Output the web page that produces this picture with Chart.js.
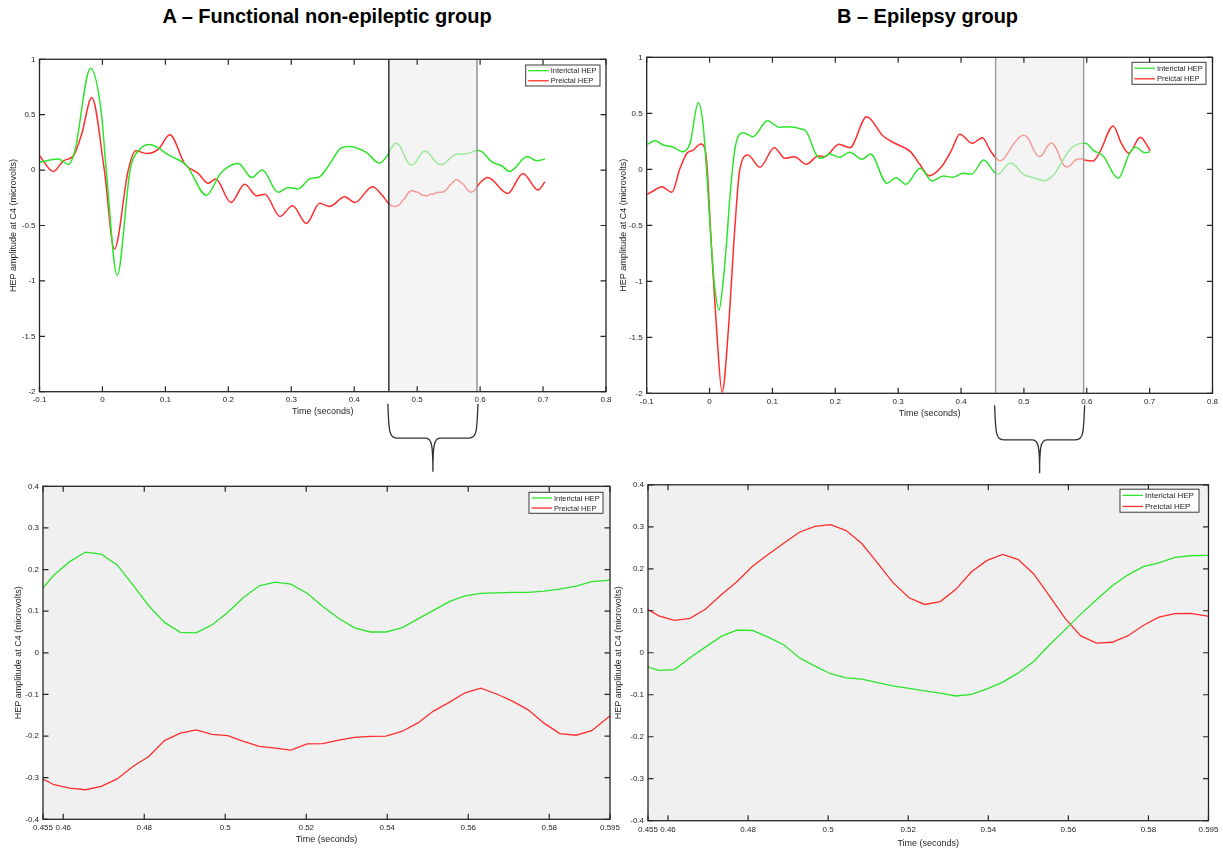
<!DOCTYPE html>
<html>
<head>
<meta charset="utf-8">
<script src="https://cdn.jsdelivr.net/npm/chart.js@4.4.1/dist/chart.umd.min.js"></script>
<style>
  html, body { margin: 0; padding: 0; background: #fff; }
  body { position: relative; width: 1223px; height: 850px; overflow: hidden;
         font-family: "Liberation Sans", Arial, sans-serif; }
  .ttl { position: absolute; top: 6px; font-weight: bold; font-size: 20px; line-height: 20px;
         text-align: center; color: #000; white-space: nowrap; }
  canvas { position: absolute; }
</style>
</head>
<body>
<div class="ttl" style="left:0px;width:654px;">A – Functional non-epileptic group</div>
<div class="ttl" style="left:632px;width:591px;">B – Epilepsy group</div>

<canvas id="cA" width="620" height="480" style="left:0px;top:0px;"></canvas>
<canvas id="cB" width="611" height="480" style="left:612px;top:0px;"></canvas>
<canvas id="cAz" width="625" height="374" style="left:0px;top:476px;"></canvas>
<canvas id="cBz" width="611" height="374" style="left:612px;top:476px;"></canvas>

<script>
// ---------- axis ticks ----------
const overviewTicksX = [-0.1, 0, 0.1, 0.2, 0.3, 0.4, 0.5, 0.6, 0.7, 0.8];
const overviewTicksY = [-2, -1.5, -1, -0.5, 0, 0.5, 1];
const zoomTicksX = [0.455, 0.46, 0.48, 0.5, 0.52, 0.54, 0.56, 0.58, 0.595];
const zoomTicksY = [-0.4, -0.3, -0.2, -0.1, 0, 0.1, 0.2, 0.3, 0.4];
const windowFrom = 0.455, windowTo = 0.595;

// ---------- samples inside the 0.455–0.595 s window (s) ----------
const windowT = [0.4538, 0.4577, 0.4616, 0.4655, 0.4694, 0.4733, 0.4772, 0.4811, 0.4850, 0.4889,
                 0.4928, 0.4967, 0.5006, 0.5045, 0.5084, 0.5123, 0.5162, 0.5202, 0.5241, 0.5280,
                 0.5319, 0.5358, 0.5397, 0.5436, 0.5475, 0.5514, 0.5553, 0.5592, 0.5631, 0.5670,
                 0.5709, 0.5748, 0.5787, 0.5826, 0.5866, 0.5905, 0.5944, 0.5983];

// Functional non-epileptic group, window (µV)
const fnesInterictalWin = [0.142, 0.187, 0.219, 0.242, 0.237, 0.211, 0.163, 0.113, 0.073, 0.049,
                           0.048, 0.067, 0.097, 0.133, 0.161, 0.170, 0.165, 0.143, 0.111, 0.083,
                           0.060, 0.050, 0.050, 0.060, 0.081, 0.102, 0.123, 0.137, 0.143, 0.144,
                           0.145, 0.145, 0.148, 0.153, 0.160, 0.171, 0.174, 0.176];
const fnesPreictalWin = [-0.297, -0.317, -0.325, -0.329, -0.321, -0.303, -0.273, -0.249, -0.211, -0.193,
                         -0.185, -0.196, -0.199, -0.213, -0.225, -0.229, -0.234, -0.219, -0.218, -0.210,
                         -0.203, -0.201, -0.200, -0.189, -0.169, -0.140, -0.119, -0.096, -0.085, -0.099,
                         -0.116, -0.137, -0.169, -0.194, -0.198, -0.187, -0.156, -0.125];

// Epilepsy group, window (µV)
const epiInterictalWin = [-0.030, -0.042, -0.040, -0.012, 0.014, 0.039, 0.054, 0.053, 0.037, 0.019,
                          -0.012, -0.032, -0.050, -0.060, -0.063, -0.071, -0.079, -0.085, -0.091, -0.096,
                          -0.103, -0.099, -0.086, -0.070, -0.048, -0.020, 0.019, 0.055, 0.092, 0.126,
                          0.159, 0.185, 0.205, 0.214, 0.227, 0.231, 0.232, 0.233];
const epiPreictalWin = [0.110, 0.088, 0.077, 0.082, 0.104, 0.138, 0.169, 0.206, 0.234, 0.261,
                        0.287, 0.301, 0.305, 0.291, 0.260, 0.214, 0.167, 0.131, 0.115, 0.122,
                        0.151, 0.193, 0.220, 0.234, 0.222, 0.187, 0.135, 0.082, 0.040, 0.023,
                        0.025, 0.040, 0.065, 0.085, 0.093, 0.094, 0.088, 0.080];

// ---------- samples outside the window ----------
// Functional non-epileptic group, interictal
const fnesInterictalPreT = [-0.100, -0.070, -0.054, -0.044, -0.019, -0.002, 0.006, 0.0235, 0.044, 0.060,
                            0.075, 0.107, 0.134, 0.165, 0.189, 0.216, 0.237, 0.254, 0.279, 0.295,
                            0.311, 0.329, 0.345, 0.361, 0.377, 0.392, 0.419, 0.440];
const fnesInterictalPreV = [0.07, 0.10, 0.05, 0.17, 0.92, 0.53, 0.00, -0.948, 0.00, 0.19,
                            0.23, 0.13, 0.04, -0.226, -0.02, 0.06, -0.067, 0.00, -0.20, -0.157,
                            -0.17, -0.08, -0.06, 0.054, 0.19, 0.213, 0.16, 0.063];
const fnesInterictalPostT = [0.620, 0.634, 0.647, 0.675, 0.690, 0.703];
const fnesInterictalPostV = [0.069, 0.039, -0.012, 0.123, 0.084, 0.099];

// Functional non-epileptic group, preictal
const fnesPreictalPreT = [-0.100, -0.078, -0.062, -0.046, -0.033, -0.017, 0.003, 0.019, 0.041, 0.053,
                          0.070, 0.089, 0.107, 0.131, 0.152, 0.168, 0.180, 0.204, 0.226, 0.245,
                          0.258, 0.282, 0.302, 0.324, 0.345, 0.361, 0.385, 0.401, 0.429, 0.443];
const fnesPreictalPreV = [0.13, -0.012, 0.084, 0.13, 0.325, 0.655, 0.00, -0.713, 0.00, 0.174,
                          0.15, 0.19, 0.319, 0.054, -0.03, -0.118, -0.081, -0.292, -0.127, -0.232,
                          -0.217, -0.418, -0.322, -0.482, -0.30, -0.328, -0.241, -0.292, -0.151, -0.217];
const fnesPreictalPostT = [0.612, 0.644, 0.668, 0.692, 0.703];
const fnesPreictalPostV = [-0.067, -0.211, -0.03, -0.18, -0.106];

// Epilepsy group, interictal
const epiInterictalPreT = [-0.099, -0.087, -0.074, -0.060, -0.042, -0.031, -0.018, -0.010, 0.003, 0.007,
                           0.015, 0.0218, 0.027, 0.032, 0.040, 0.053, 0.069, 0.092, 0.111, 0.123,
                           0.146, 0.154, 0.170, 0.178, 0.191, 0.206, 0.223, 0.243, 0.256, 0.282,
                           0.297, 0.312, 0.335, 0.354, 0.372, 0.387, 0.403, 0.417, 0.436];
const epiInterictalPreV = [0.223, 0.256, 0.217, 0.202, 0.157, 0.232, 0.595, 0.38, -0.69, -0.99,
                           -1.256, -0.99, -0.66, -0.274, 0.172, 0.327, 0.291, 0.434, 0.375, 0.38,
                           0.36, 0.336, 0.128, 0.098, 0.137, 0.107, 0.152, 0.089, 0.137, -0.125,
                           -0.075, -0.134, 0.009, -0.104, -0.06, -0.071, -0.036, -0.042, 0.083];
const epiInterictalPostT = [0.610, 0.626, 0.650, 0.668, 0.678, 0.692, 0.701];
const epiInterictalPostV = [0.172, 0.119, -0.08, 0.143, 0.196, 0.148, 0.157];

// Epilepsy group, preictal
const epiPreictalPreT = [-0.099, -0.087, -0.076, -0.060, -0.047, -0.036, -0.026, -0.014, -0.006, 0.003,
                         0.0113, 0.020, 0.0298, 0.040, 0.048, 0.061, 0.080, 0.103, 0.120, 0.135,
                         0.154, 0.173, 0.183, 0.206, 0.223, 0.250, 0.276, 0.297, 0.319, 0.335,
                         0.349, 0.369, 0.385, 0.398, 0.418, 0.434, 0.446];
const epiPreictalPreV = [-0.223, -0.185, -0.155, -0.205, 0.009, 0.143, 0.172, 0.226, 0.143, -0.69,
                         -1.44, -1.99, -1.44, -0.54, -0.006, 0.128, 0.018, 0.193, 0.098, 0.113,
                         0.045, 0.119, 0.113, 0.223, 0.193, 0.47, 0.297, 0.226, 0.16, 0.04,
                         -0.057, 0.023, 0.172, 0.313, 0.232, 0.282, 0.172];
const epiPreictalPostT = [0.610, 0.621, 0.642, 0.655, 0.667, 0.685, 0.701];
const epiPreictalPostV = [0.074, 0.157, 0.387, 0.232, 0.143, 0.286, 0.166];

// ---------- styling ----------
const AXIS_COLOR = '#262626';
const GREEN = 'rgb(45,228,45)';
const RED = 'rgb(255,45,45)';
const FONT = '"Liberation Sans", Arial, Helvetica, sans-serif';
const X_TITLE = 'Time (seconds)';
const Y_TITLE = 'HEP amplitude at C4 (microvolts)';
const LABELS = ['Interictal HEP', 'Preictal HEP'];

Chart.defaults.font.family = FONT;
Chart.defaults.color = AXIS_COLOR;

function pts(tArr, vArr) { return tArr.map((t, i) => ({ x: t, y: vArr[i] })); }
function fullSeries(preT, preV, winV, postT, postV) {
  return pts(preT, preV).concat(pts(windowT, winV), pts(postT, postV));
}
const fmt = v => String(parseFloat(Number(v).toFixed(4)));

// draws the axes box, inward ticks, highlighted window, legend box and brace
function decorPlugin(p) {
  return {
    id: 'decor',
    beforeDatasetsDraw(chart) {
      if (!p.plotBg) return;
      const a = chart.chartArea, ctx = chart.ctx;
      ctx.save();
      ctx.fillStyle = p.plotBg;
      ctx.fillRect(a.left, a.top, a.right - a.left, a.bottom - a.top);
      ctx.restore();
    },
    afterDatasetsDraw(chart) {
      const { ctx, chartArea: a } = chart;
      const xs = chart.scales.x, ys = chart.scales.y;
      ctx.save();
      // highlighted time window
      if (p.window) {
        const xl = xs.getPixelForValue(windowFrom), xr = xs.getPixelForValue(windowTo);
        ctx.fillStyle = 'rgba(236,236,236,0.58)';
        ctx.fillRect(xl, a.top, xr - xl, a.bottom - a.top);
        ctx.lineWidth = 1.4;
        ctx.strokeStyle = p.window.leftColor;
        ctx.beginPath(); ctx.moveTo(xl, a.top); ctx.lineTo(xl, a.bottom); ctx.stroke();
        ctx.strokeStyle = p.window.rightColor;
        ctx.beginPath(); ctx.moveTo(xr, a.top); ctx.lineTo(xr, a.bottom); ctx.stroke();
      }
      // axes box
      ctx.strokeStyle = AXIS_COLOR;
      ctx.lineWidth = 1.3;
      ctx.strokeRect(a.left, a.top, a.right - a.left, a.bottom - a.top);
      // inward tick marks on all four sides
      const L = 5.5;
      ctx.lineWidth = 1.2;
      ctx.beginPath();
      xs.ticks.forEach(t => {
        const px = xs.getPixelForValue(t.value);
        ctx.moveTo(px, a.bottom); ctx.lineTo(px, a.bottom - L);
        ctx.moveTo(px, a.top); ctx.lineTo(px, a.top + L);
      });
      ys.ticks.forEach(t => {
        const py = ys.getPixelForValue(t.value);
        ctx.moveTo(a.left, py); ctx.lineTo(a.left + L, py);
        ctx.moveTo(a.right, py); ctx.lineTo(a.right - L, py);
      });
      ctx.stroke();
      // legend box
      const lg = p.legend;
      const bx = a.right - lg.dr - lg.w, by = a.top + lg.dt;
      ctx.fillStyle = '#ffffff';
      ctx.fillRect(bx, by, lg.w, lg.h);
      ctx.strokeStyle = '#3a3a3a';
      ctx.lineWidth = 1;
      ctx.strokeRect(bx, by, lg.w, lg.h);
      ctx.font = lg.size + 'px ' + FONT;
      ctx.textBaseline = 'middle';
      ctx.textAlign = 'left';
      chart.data.datasets.forEach((ds, i) => {
        const yy = by + lg.h * (i === 0 ? 0.27 : 0.75);
        ctx.strokeStyle = ds.borderColor;
        ctx.lineWidth = 1.3;
        ctx.beginPath(); ctx.moveTo(bx + 2.5, yy); ctx.lineTo(bx + 23, yy); ctx.stroke();
        ctx.fillStyle = AXIS_COLOR;
        ctx.fillText(ds.label, bx + 25, yy + 0.5);
      });
      ctx.restore();
    },
    afterDraw(chart) {
      if (!p.brace) return;
      const { ctx, chartArea: a } = chart;
      const xs = chart.scales.x;
      const xl = xs.getPixelForValue(windowFrom) - 1, xr = xs.getPixelForValue(windowTo) + 1;
      const xm = (xl + xr) / 2;
      const y0 = a.bottom + 12, y1 = a.bottom + 46.5, y2 = a.bottom + 80;
      ctx.save();
      ctx.strokeStyle = '#303030';
      ctx.lineWidth = 1.3;
      ctx.beginPath();
      ctx.moveTo(xl, y0);
      ctx.bezierCurveTo(xl + 1, y1 - 8, xl + 1, y1, xl + 9, y1);
      ctx.lineTo(xm - 7, y1);
      ctx.bezierCurveTo(xm - 1, y1, xm, y1 + 8, xm, y2);
      ctx.moveTo(xm, y2);
      ctx.bezierCurveTo(xm, y1 + 8, xm + 1, y1, xm + 7, y1);
      ctx.lineTo(xr - 9, y1);
      ctx.bezierCurveTo(xr - 1, y1, xr - 1, y1 - 8, xr, y0);
      ctx.stroke();
      ctx.restore();
    }
  };
}

function makePanel(p) {
  const canvas = document.getElementById(p.id);
  const W = canvas.width, H = canvas.height;
  const half = 5.4; // half the title line height (9px * 1.2 / 2)
  return new Chart(canvas, {
    type: 'line',
    data: {
      datasets: [
        { label: LABELS[0], data: p.green, borderColor: GREEN, borderWidth: p.lw,
          pointRadius: 0, fill: false, tension: p.smooth ? 0.4 : 0,
          cubicInterpolationMode: p.smooth ? 'monotone' : 'default' },
        { label: LABELS[1], data: p.red, borderColor: RED, borderWidth: p.lw,
          pointRadius: 0, fill: false, tension: p.smooth ? 0.4 : 0,
          cubicInterpolationMode: p.smooth ? 'monotone' : 'default' }
      ]
    },
    options: {
      responsive: false,
      animation: false,
      devicePixelRatio: 1,
      events: [],
      layout: { padding: { left: 0, top: p.area.t, right: W - p.area.r, bottom: 0 } },
      plugins: { legend: { display: false }, tooltip: { enabled: false }, title: { display: false } },
      scales: {
        x: {
          type: 'linear', position: 'bottom',
          min: p.xTicks[0], max: p.xTicks[p.xTicks.length - 1],
          afterBuildTicks: s => { s.ticks = p.xTicks.map(v => ({ value: v })); },
          afterFit: s => { s.height = H - p.area.b; },
          grid: { display: false, drawTicks: false },
          border: { display: false },
          ticks: { autoSkip: false, maxRotation: 0, minRotation: 0, padding: p.xPad,
                   font: { size: 8 }, color: AXIS_COLOR, callback: fmt },
          title: { display: true, text: X_TITLE, font: { size: 9 }, color: AXIS_COLOR,
                   padding: { top: 0, bottom: (H - p.xTitleY) - half } }
        },
        y: {
          type: 'linear', position: 'left',
          min: p.yTicks[0], max: p.yTicks[p.yTicks.length - 1],
          afterBuildTicks: s => { s.ticks = p.yTicks.map(v => ({ value: v })); },
          afterFit: s => { s.width = p.area.l; },
          grid: { display: false, drawTicks: false },
          border: { display: false },
          ticks: { autoSkip: false, padding: 4, font: { size: 8 }, color: AXIS_COLOR, callback: fmt },
          title: { display: true, text: Y_TITLE, font: { size: 9 }, color: AXIS_COLOR,
                   padding: { top: p.yTitleX - half, bottom: 0 } }
        }
      }
    },
    plugins: [decorPlugin(p)]
  });
}

// A – overview
makePanel({
  id: 'cA', area: { l: 39.5, t: 59.3, r: 606, b: 391.7 },
  xTicks: overviewTicksX, yTicks: overviewTicksY, xPad: 3.5,
  xTitleY: 411.7, yTitleX: 14, smooth: true, lw: 1.5,
  green: fullSeries(fnesInterictalPreT, fnesInterictalPreV, fnesInterictalWin, fnesInterictalPostT, fnesInterictalPostV),
  red: fullSeries(fnesPreictalPreT, fnesPreictalPreV, fnesPreictalWin, fnesPreictalPostT, fnesPreictalPostV),
  window: { leftColor: '#262626', rightColor: '#8c8c8c' }, brace: true,
  legend: { dr: 6, dt: 5.7, w: 74.3, h: 21, size: 7.5 }
});

// B – overview
makePanel({
  id: 'cB', area: { l: 34.7, t: 57.3, r: 600.5, b: 393.3 },
  xTicks: overviewTicksX, yTicks: overviewTicksY, xPad: 3.5,
  xTitleY: 414, yTitleX: 11.5, smooth: true, lw: 1.5,
  green: fullSeries(epiInterictalPreT, epiInterictalPreV, epiInterictalWin, epiInterictalPostT, epiInterictalPostV),
  red: fullSeries(epiPreictalPreT, epiPreictalPreV, epiPreictalWin, epiPreictalPostT, epiPreictalPostV),
  window: { leftColor: '#9a9a9a', rightColor: '#9a9a9a' }, brace: true,
  legend: { dr: 6.5, dt: 5, w: 74, h: 22, size: 7.5 }
});

// A – zoomed window
makePanel({
  id: 'cAz', area: { l: 43, t: 10.3, r: 610, b: 343.3 },
  xTicks: zoomTicksX, yTicks: zoomTicksY, xPad: 4,
  xTitleY: 364, yTitleX: 19, smooth: false, lw: 1.3, plotBg: '#f0f0f0',
  green: pts(windowT, fnesInterictalWin), red: pts(windowT, fnesPreictalWin),
  legend: { dr: 7, dt: 6, w: 74, h: 21, size: 7.5 }
});

// B – zoomed window
makePanel({
  id: 'cBz', area: { l: 36, t: 6.3, r: 596.5, b: 344.7 },
  xTicks: zoomTicksX, yTicks: zoomTicksY, xPad: 4.5,
  xTitleY: 368, yTitleX: 7, smooth: false, lw: 1.3, plotBg: '#f0f0f0',
  green: pts(windowT, epiInterictalWin), red: pts(windowT, epiPreictalWin),
  legend: { dr: 9.5, dt: 4.4, w: 79, h: 23, size: 8 }
});
</script>
</body>
</html>
